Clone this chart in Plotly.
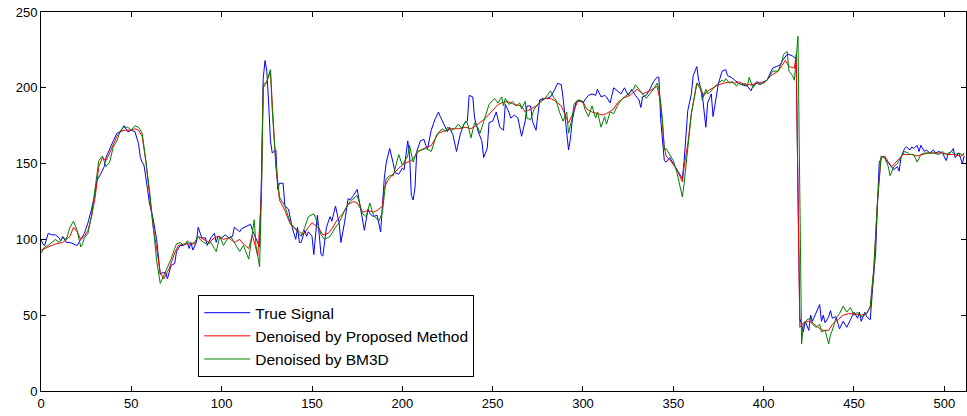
import plotly.graph_objects as go

# Sample index / amplitude of the reference (true) signal
blue_x = [
    0, 1, 2, 4, 6, 8, 10, 11, 12, 14, 16, 18,
    20, 22, 24, 26, 28, 30, 31, 33, 35, 36, 38, 40,
    42, 44, 46, 48, 50, 52, 54, 55, 56, 57, 59, 60,
    62, 64, 66, 67, 69, 70, 72, 74, 75, 77, 79, 81,
    82, 83, 84, 86, 87, 89, 91, 92, 94, 96, 97, 98,
    100, 102, 104, 106, 107, 110, 111, 113, 116, 117, 119, 121,
    122, 123, 124, 125, 126, 127, 128, 130, 131, 132, 134, 135,
    137, 139, 141, 142, 143, 144, 146, 147, 148, 150, 151, 152,
    153, 155, 156, 158, 160, 161, 163, 165, 166, 168, 170, 171,
    173, 175, 177, 179, 181, 182, 184, 186, 188, 189, 190, 191,
    193, 195, 196, 198, 200, 201, 203, 204, 205, 206, 207, 208,
    210, 212, 213, 214, 216, 218, 220, 221, 223, 225, 226, 228,
    230, 232, 234, 236, 237, 239, 240, 242, 244, 245, 247, 248,
    250, 252, 254, 256, 257, 259, 260, 262, 264, 265, 266, 268,
    269, 271, 272, 274, 275, 276, 278, 280, 282, 284, 286, 288,
    289, 290, 291, 292, 293, 294, 296, 298, 300, 301, 303, 305,
    307, 308, 310, 312, 313, 315, 317, 319, 321, 323, 325, 327,
    329, 331, 332, 333, 335, 337, 339, 341, 342, 343, 345, 346,
    348, 350, 351, 353, 355, 356, 358, 360, 361, 363, 364, 366,
    367, 368, 369, 371, 372, 374, 375, 377, 379, 380, 382, 384,
    386, 388, 390, 391, 393, 394, 396, 398, 400, 402, 403, 405,
    407, 409, 411, 413, 414, 416, 418, 419, 420, 422, 423, 425,
    426, 427, 429, 431, 432, 433, 434, 436, 437, 438, 440, 442,
    444, 446, 448, 450, 452, 453, 454, 456, 457, 459, 460, 462,
    463, 464, 466, 468, 469, 470, 472, 474, 475, 476, 478, 479,
    481, 482, 483, 485, 486, 487, 489, 490, 492, 494, 495, 497,
    499, 501, 502, 504, 505, 506, 508, 510, 511,
]
blue_y = [
    100, 97, 96, 104, 103, 103, 101, 99, 102, 98, 98, 97,
    96, 100, 104, 111, 120, 131, 139, 143, 148, 154, 160, 165,
    170, 171, 175, 171, 172, 171, 163, 154, 151, 149, 133, 124,
    114, 100, 77, 78, 78, 74, 83, 84, 92, 96, 96, 98,
    94, 98, 93, 98, 108, 101, 101, 96, 101, 104, 98, 102,
    101, 103, 101, 102, 108, 105, 107, 108, 110, 106, 101, 95,
    140, 206, 218, 211, 190, 165, 157, 159, 133, 137, 137, 122,
    120, 108, 100, 108, 98, 98, 106, 102, 105, 102, 90, 104,
    116, 90, 89, 108, 115, 112, 122, 111, 98, 111, 127, 126,
    129, 133, 119, 106, 120, 117, 115, 116, 105, 125, 140, 150,
    160, 150, 144, 143, 147, 146, 165, 156, 129, 126, 134, 158,
    165, 166, 162, 160, 172, 179, 184, 181, 176, 171, 174, 169,
    158, 169, 176, 178, 195, 194, 180, 171, 165, 154, 160, 177,
    178, 184, 174, 172, 189, 184, 180, 182, 180, 173, 168, 178,
    188, 188, 178, 172, 182, 192, 193, 193, 194, 198, 203, 202,
    193, 180, 168, 159, 166, 178, 190, 192, 190, 192, 195, 196,
    195, 199, 194, 195, 194, 190, 200, 198, 196, 200, 195, 199,
    195, 192, 187, 194, 195, 199, 204, 207, 207, 179, 152, 151,
    154, 150, 148, 144, 140, 152, 185, 196, 208, 214, 205, 196,
    183, 174, 190, 196, 181, 194, 203, 211, 212, 208, 207, 205,
    203, 202, 201, 201, 198, 201, 204, 203, 204, 205, 208, 213,
    214, 215, 219, 222, 222, 221, 219, 131, 48, 39, 46, 40,
    50, 46, 52, 57, 46, 50, 45, 49, 53, 48, 49, 41,
    46, 42, 47, 52, 48, 52, 46, 52, 49, 47, 63, 92,
    123, 151, 155, 152, 151, 149, 146, 148, 145, 154, 160, 161,
    159, 161, 160, 162, 158, 162, 158, 159, 157, 159, 157, 158,
    157, 152, 156, 158, 160, 154, 157, 150, 155,
]

# Output of the proposed denoiser
red_x = [
    0, 4, 8, 12, 16, 18, 20, 22, 24, 26, 28, 30,
    32, 34, 36, 38, 40, 42, 44, 46, 48, 50, 52, 54,
    56, 58, 60, 62, 64, 66, 68, 71, 74, 76, 79, 82,
    85, 87, 90, 93, 96, 98, 101, 104, 107, 110, 112, 115,
    117, 119, 120, 122, 123, 125, 127, 128, 130, 132, 135, 138,
    142, 145, 148, 150, 154, 156, 159, 161, 164, 167, 170, 173,
    175, 178, 181, 184, 186, 189, 190, 192, 194, 197, 198, 201,
    205, 209, 212, 216, 220, 224, 227, 231, 235, 238, 242, 246,
    249, 253, 255, 258, 262, 266, 268, 271, 274, 277, 279, 282,
    285, 288, 290, 292, 294, 297, 300, 302, 305, 308, 311, 313,
    317, 319, 322, 326, 330, 333, 337, 341, 343, 345, 346, 349,
    352, 355, 356, 358, 360, 363, 365, 367, 369, 372, 375, 378,
    381, 384, 386, 390, 393, 397, 401, 404, 408, 412, 414, 417,
    418, 419, 420, 422, 425, 427, 430, 433, 436, 438, 441, 444,
    447, 450, 454, 457, 459, 461, 463, 465, 467, 469, 471, 474,
    477, 480, 482, 485, 488, 491, 494, 498, 502, 505, 509, 511,
]
red_y = [
    93, 95, 97, 98, 102, 108, 105, 100, 102, 106, 115, 128,
    148, 154, 152, 157, 163, 168, 171, 172, 172, 172, 173, 172,
    168, 152, 130, 109, 94, 78, 74, 81, 91, 96, 97, 97,
    97, 102, 100, 98, 101, 102, 100, 101, 98, 100, 97, 94,
    103, 93, 89, 129, 200, 204, 211, 190, 148, 126, 119, 110,
    106, 103, 108, 111, 107, 103, 104, 107, 113, 117, 123, 125,
    124, 118, 119, 118, 119, 122, 134, 139, 142, 146, 147, 150,
    152, 158, 160, 162, 170, 172, 173, 173, 174, 173, 176, 180,
    184, 189, 190, 191, 189, 188, 184, 186, 188, 191, 193, 193,
    191, 188, 182, 177, 182, 191, 191, 186, 184, 183, 182, 183,
    186, 190, 193, 195, 199, 196, 198, 201, 190, 161, 155, 151,
    146, 138, 148, 163, 183, 203, 199, 195, 198, 200, 202, 203,
    204, 203, 204, 202, 202, 203, 204, 208, 211, 218, 214, 213,
    222, 130, 42, 45, 46, 45, 42, 40, 40, 44, 47, 50,
    51, 51, 50, 51, 55, 81, 125, 154, 155, 151, 148, 152,
    156, 156, 156, 155, 156, 157, 157, 157, 156, 156, 155, 156,
]

# Output of BM3D
green_x = [
    0, 2, 4, 6, 8, 10, 12, 14, 16, 18, 20, 22,
    23, 24, 26, 28, 30, 32, 34, 36, 38, 40, 42, 44,
    46, 48, 50, 52, 54, 56, 58, 60, 62, 64, 66, 68,
    70, 72, 74, 75, 77, 79, 81, 83, 85, 87, 88, 90,
    92, 94, 96, 97, 99, 101, 103, 105, 107, 109, 110, 112,
    115, 118, 119, 121, 122, 123, 125, 127, 128, 130, 132, 135,
    138, 142, 144, 146, 148, 151, 153, 155, 157, 160, 163, 165,
    168, 171, 173, 175, 178, 180, 182, 184, 187, 189, 191, 193,
    195, 198, 200, 201, 203, 204, 206, 208, 211, 213, 216, 219,
    222, 224, 225, 227, 229, 231, 233, 235, 236, 238, 240, 242,
    243, 246, 248, 251, 253, 255, 256, 257, 259, 261, 263, 265,
    266, 268, 269, 271, 273, 275, 277, 279, 282, 284, 285, 287,
    289, 291, 292, 294, 295, 297, 300, 301, 303, 305, 307, 308,
    310, 312, 313, 315, 317, 319, 320, 322, 325, 328, 329, 331,
    333, 335, 337, 339, 341, 342, 344, 345, 346, 348, 350, 352,
    354, 355, 356, 358, 360, 362, 363, 365, 366, 368, 369, 371,
    373, 375, 377, 378, 379, 381, 383, 385, 386, 388, 390, 391,
    392, 394, 396, 398, 401, 403, 405, 408, 410, 411, 413, 414,
    416, 417, 419, 421, 422, 424, 426, 427, 429, 431, 432, 434,
    436, 437, 438, 440, 442, 444, 446, 448, 450, 452, 454, 456,
    457, 459, 461, 463, 465, 467, 469, 470, 472, 474, 476, 478,
    480, 481, 483, 485, 487, 489, 492, 494, 497, 499, 501, 503,
    504, 506, 508, 510, 511,
]
green_y = [
    91, 95, 96, 98, 100, 98, 101, 100, 108, 112, 106, 95,
    97, 101, 104, 116, 135, 152, 155, 148, 151, 161, 165, 172,
    174, 174, 172, 175, 174, 170, 152, 133, 110, 86, 71, 76,
    81, 87, 94, 97, 98, 96, 99, 97, 98, 102, 100, 98,
    97, 98, 94, 92, 102, 96, 100, 102, 98, 94, 92, 96,
    87, 113, 96, 82, 129, 202, 204, 212, 185, 150, 128, 122,
    111, 105, 102, 108, 115, 117, 111, 103, 100, 102, 108, 111,
    119, 125, 127, 129, 117, 115, 124, 116, 112, 118, 140, 142,
    142, 156, 149, 151, 155, 162, 151, 158, 159, 160, 158, 169,
    173, 171, 174, 172, 173, 176, 173, 178, 177, 167, 177, 173,
    170, 182, 189, 193, 190, 194, 188, 193, 189, 191, 188, 190,
    186, 191, 180, 179, 186, 189, 192, 193, 198, 193, 192, 184,
    178, 184, 170, 180, 189, 192, 191, 186, 181, 188, 180, 184,
    174, 181, 176, 184, 183, 188, 190, 193, 196, 199, 202, 199,
    196, 193, 196, 199, 203, 200, 179, 159, 160, 156, 152, 144,
    134, 128, 137, 161, 183, 196, 203, 201, 192, 199, 196, 198,
    201, 203, 205, 204, 206, 203, 204, 201, 203, 202, 203, 201,
    207, 200, 203, 202, 204, 207, 211, 211, 217, 222, 224, 211,
    208, 205, 234, 31, 44, 47, 48, 44, 42, 44, 39, 40,
    31, 37, 40, 48, 51, 56, 52, 55, 50, 52, 49, 50,
    51, 56, 81, 125, 155, 154, 148, 142, 148, 150, 154, 158,
    157, 156, 156, 151, 156, 157, 157, 157, 156, 158, 156, 157,
    158, 156, 157, 156, 157,
]

series_names = ["True Signal", "Denoised by Proposed Method", "Denoised by BM3D"]
x_ticks = [0, 50, 100, 150, 200, 250, 300, 350, 400, 450, 500]
y_ticks = [0, 50, 100, 150, 200, 250]

FONT = "Liberation Sans, Arial, sans-serif"

fig = go.Figure()
for name, xs, ys, color in [
    (series_names[0], blue_x, blue_y, "#0000ff"),
    (series_names[1], red_x, red_y, "#ff0000"),
    (series_names[2], green_x, green_y, "#008000"),
]:
    fig.add_trace(go.Scatter(x=xs, y=ys, mode="lines", name=name,
                             line=dict(color=color, width=1)))

axis_style = dict(
    showline=True, linecolor="black", linewidth=1, mirror="ticks",
    ticks="inside", ticklen=5, tickcolor="black", tickwidth=1,
    showgrid=False, zeroline=False,
    tickfont=dict(family=FONT, size=13, color="black"),
)

fig.update_layout(
    width=967, height=416,
    margin=dict(l=41, r=1, t=12, b=25),
    paper_bgcolor="white", plot_bgcolor="white",
    font=dict(family=FONT, color="black"),
    xaxis=dict(range=[0, 512], tickvals=x_ticks, **axis_style),
    yaxis=dict(range=[0, 250], tickvals=y_ticks, **axis_style),
    legend=dict(
        x=0.17, y=0.253, xanchor="left", yanchor="top",
        bgcolor="white", bordercolor="black", borderwidth=1,
        itemwidth=46,
        font=dict(size=15.5, family=FONT),
    ),
)

fig.write_html("out.html")
